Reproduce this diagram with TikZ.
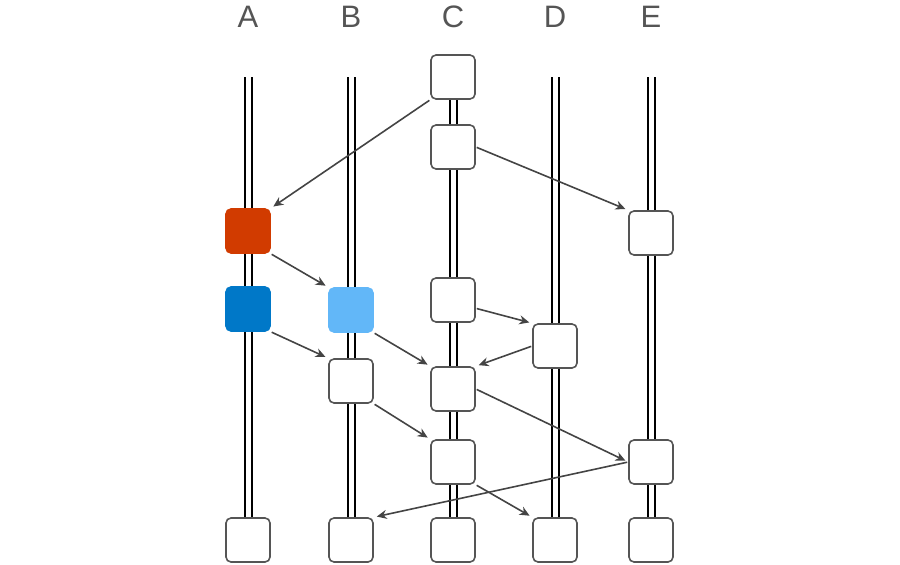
\documentclass[tikz,border=0pt]{standalone}
\usepackage{fontspec}
\setmainfont{Liberation Sans}
\usetikzlibrary{arrows.meta}
\definecolor{evred}{HTML}{D13B00}
\definecolor{evblue}{HTML}{0078C8}
\definecolor{evlight}{HTML}{62B7F8}
\definecolor{evgray}{HTML}{555555}
\tikzset{
	ev/.style={draw=evgray,fill=white,line width=1.6pt,rounded corners=5pt,minimum size=44pt,inner sep=0pt},
	msg/.style={draw=evgray!80!black,line width=1.6pt,-{Stealth[length=10pt,width=9pt]},shorten >=3pt,shorten <=1pt},
	rail/.style={line width=2pt},
}
\begin{document}
\begin{tikzpicture}[x=1pt,y=-1pt]
		\useasboundingbox (0,0) rectangle (900,565);
		\foreach \n/\x in {A/248,B/351,C/453,D/555,E/651}{
			\node[text=evgray,font=\fontsize{31}{31}\selectfont] at (\x,17) {\n};
			\draw[rail] (\x-3.5,77) -- (\x-3.5,540);
			\draw[rail] (\x+3.5,77) -- (\x+3.5,540);
		}
		% events per process
		\node[ev,fill=evred,draw=evred] (a1) at (248,231) {};
		\node[ev,fill=evblue,draw=evblue] (a2) at (248,309) {};
		\node[ev] (a3) at (248,540) {};
		\node[ev,fill=evlight,draw=evlight] (b1) at (351,310) {};
		\node[ev] (b2) at (351,381) {};
		\node[ev] (b3) at (351,540) {};
		\node[ev] (c1) at (453,77) {};
		\node[ev] (c2) at (453,147) {};
		\node[ev] (c3) at (453,300) {};
		\node[ev] (c4) at (453,389) {};
		\node[ev] (c5) at (453,462) {};
		\node[ev] (c6) at (453,540) {};
		\node[ev] (d1) at (555,346) {};
		\node[ev] (d2) at (555,540) {};
		\node[ev] (e1) at (651,233) {};
		\node[ev] (e2) at (651,462) {};
		\node[ev] (e3) at (651,540) {};
		% messages
		\draw[msg] (c1.south west) -- (a1.north east);
		\draw[msg] (c2.east) -- (e1.north west);
		\draw[msg] (a1.south east) -- (b1.north west);
		\draw[msg] (a2.south east) -- (b2.north west);
		\draw[msg] (b1.south east) -- (c4.north west);
		\draw[msg] (c3.-20) -- (d1.north west);
		\draw[msg] (d1.west) -- (c4.north east);
		\draw[msg] (b2.south east) -- (c5.north west);
		\draw[msg] (c4.east) -- (e2.west);
		\draw[msg] (e2.west) -- (b3.north east);
		\draw[msg] (c5.south east) -- (d2.north west);
	\end{tikzpicture}
\end{document}
